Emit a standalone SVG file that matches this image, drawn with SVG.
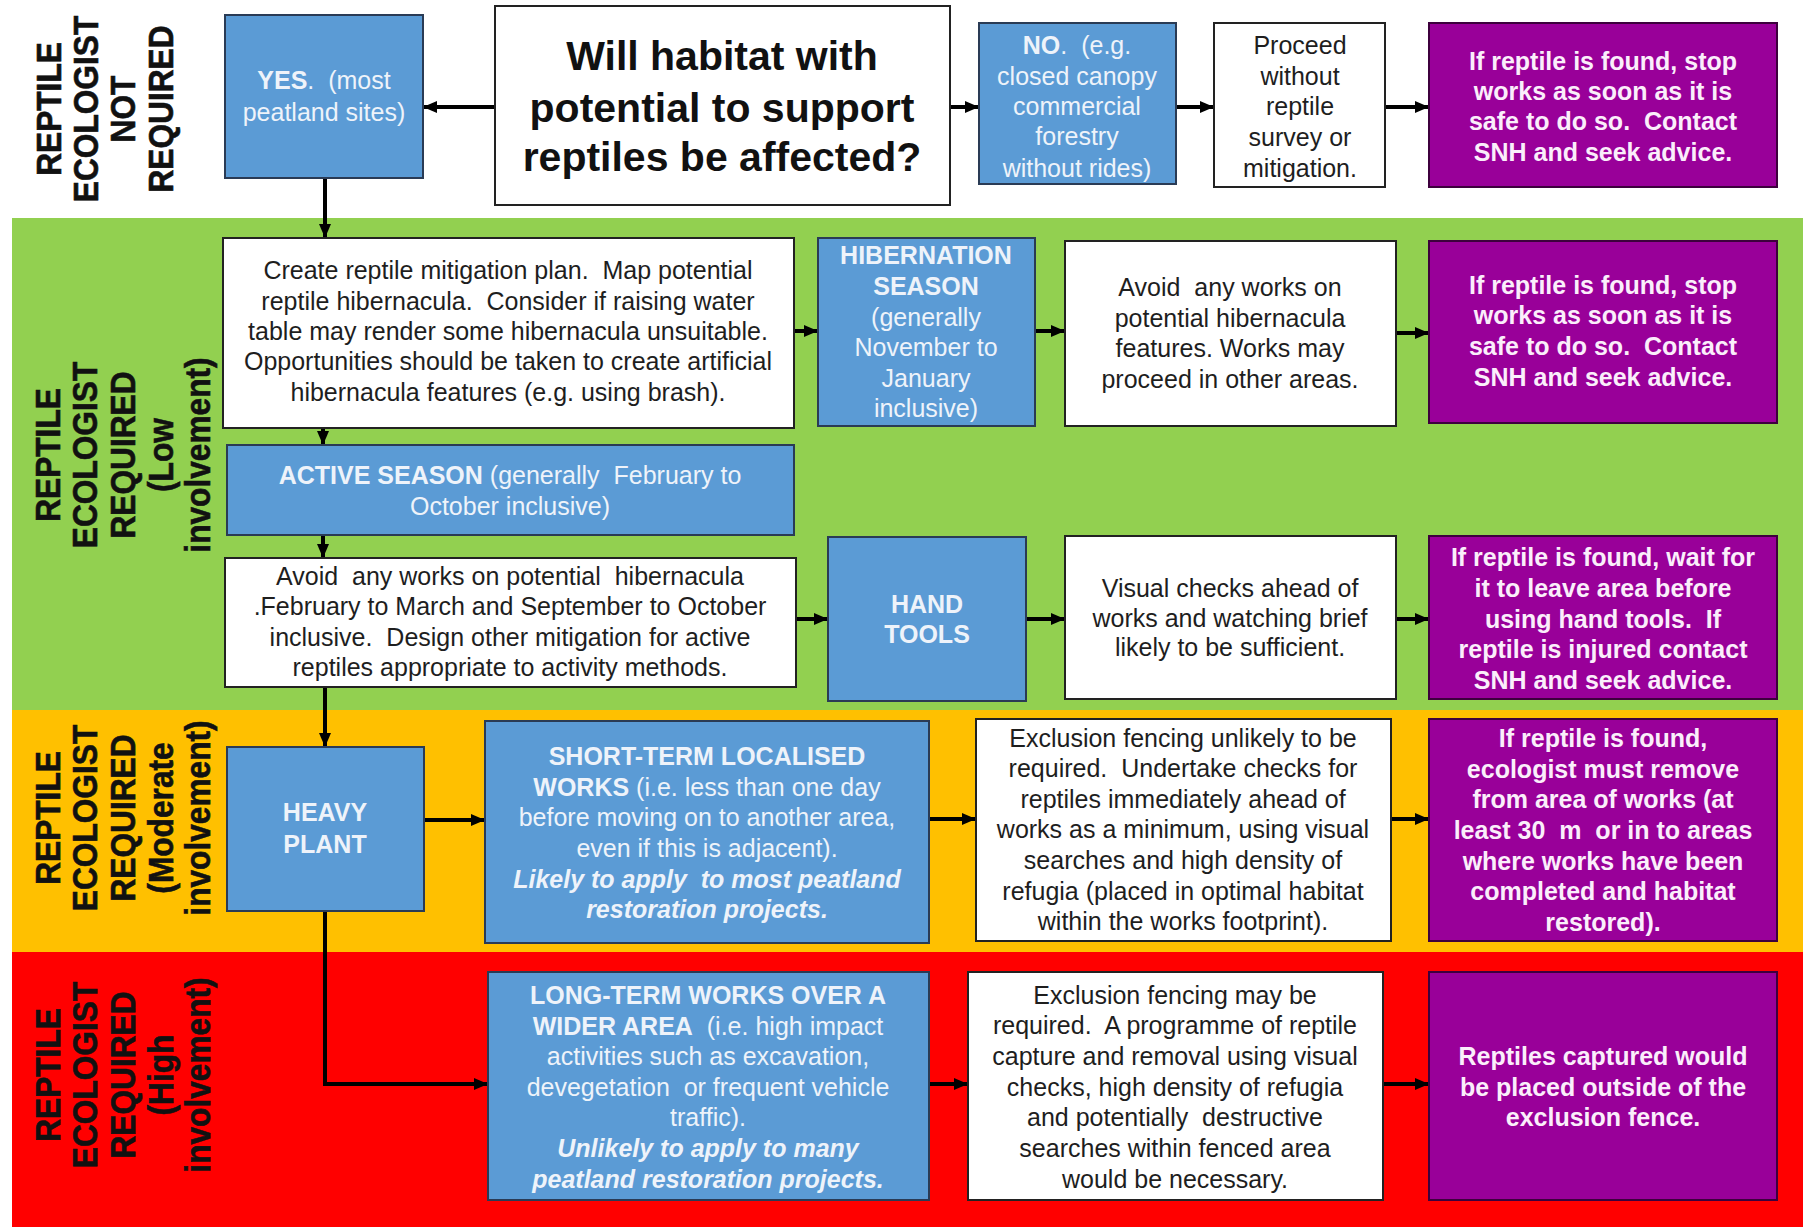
<svg xmlns="http://www.w3.org/2000/svg" width="1803" height="1227" viewBox="0 0 1803 1227">
<style>
.bl{fill:#5b9bd5;stroke:#2a3b55;stroke-width:2}
.wh{fill:#ffffff;stroke:#222;stroke-width:2}
.pu{fill:#990099;stroke:#3d003d;stroke-width:2}
text{font-family:"Liberation Sans",Arial,sans-serif;font-size:25px;text-anchor:middle}
.t{fill:#1e1e1e}
.tw{fill:#eef3fa}
.tp{fill:#fbeefb;font-weight:bold}
.b{font-weight:bold}
.bi{font-weight:bold;font-style:italic}
.lab{font-weight:bold;font-size:36px;fill:#111;stroke:#111;stroke-width:0.6}
.title{font-weight:bold;font-size:41px;fill:#111}
.c{stroke:#000;stroke-width:4;fill:none;marker-end:url(#ah)}
</style>
<defs>
<marker id="ah" markerUnits="userSpaceOnUse" markerWidth="14" markerHeight="14" viewBox="0 0 14 14" refX="13" refY="7" orient="auto">
<path d="M0,1 L14,7 L0,13 z" fill="#000"/>
</marker>
</defs>

<g id="bands">
<rect x="0" y="0" width="1803" height="218" fill="#ffffff"/>
<rect x="12" y="218" width="1791" height="492" fill="#92d050"/>
<rect x="12" y="710" width="1791" height="242" fill="#ffc000"/>
<rect x="12" y="952" width="1791" height="275" fill="#ff0000"/>
</g>

<g id="label-not-required" transform="translate(0,109) rotate(-90) scale(0.88,1)">
<text class="lab" x="0" y="61">REPTILE</text>
<text class="lab" x="0" y="98">ECOLOGIST</text>
<text class="lab" x="0" y="135">NOT</text>
<text class="lab" x="0" y="173">REQUIRED</text>
</g>
<g id="label-low" transform="translate(0,455) rotate(-90) scale(0.88,1)">
<text class="lab" x="0" y="60">REPTILE</text>
<text class="lab" x="0" y="97">ECOLOGIST</text>
<text class="lab" x="0" y="135">REQUIRED</text>
<text class="lab" x="0" y="173">(Low</text>
<text class="lab" x="0" y="210">involvement)</text>
</g>
<g id="label-moderate" transform="translate(0,818) rotate(-90) scale(0.88,1)">
<text class="lab" x="0" y="60">REPTILE</text>
<text class="lab" x="0" y="97">ECOLOGIST</text>
<text class="lab" x="0" y="135">REQUIRED</text>
<text class="lab" x="0" y="173">(Moderate</text>
<text class="lab" x="0" y="210">involvement)</text>
</g>
<g id="label-high" transform="translate(0,1075) rotate(-90) scale(0.88,1)">
<text class="lab" x="0" y="60">REPTILE</text>
<text class="lab" x="0" y="97">ECOLOGIST</text>
<text class="lab" x="0" y="135">REQUIRED</text>
<text class="lab" x="0" y="173">(High</text>
<text class="lab" x="0" y="210">involvement)</text>
</g>

<g id="connectors">
<line class="c" x1="495" y1="107" x2="424" y2="107"/>
<line class="c" x1="950" y1="107" x2="978" y2="107"/>
<line class="c" x1="1176" y1="107" x2="1213" y2="107"/>
<line class="c" x1="1385" y1="107" x2="1428" y2="107"/>
<line class="c" x1="325" y1="178" x2="325" y2="237"/>
<line class="c" x1="794" y1="331" x2="817" y2="331"/>
<line class="c" x1="1035" y1="331" x2="1064" y2="331"/>
<line class="c" x1="1396" y1="333" x2="1428" y2="333"/>
<line class="c" x1="323" y1="428" x2="323" y2="444"/>
<line class="c" x1="323" y1="535" x2="323" y2="557"/>
<line class="c" x1="796" y1="619" x2="827" y2="619"/>
<line class="c" x1="1026" y1="619" x2="1064" y2="619"/>
<line class="c" x1="1396" y1="619" x2="1428" y2="619"/>
<line class="c" x1="325" y1="687" x2="325" y2="746"/>
<line class="c" x1="424" y1="820" x2="484" y2="820"/>
<line class="c" x1="929" y1="819" x2="975" y2="819"/>
<line class="c" x1="1391" y1="819" x2="1428" y2="819"/>
<polyline class="c" points="325,911 325,1084 487,1084"/>
<line class="c" x1="929" y1="1084" x2="967" y2="1084"/>
<line class="c" x1="1383" y1="1084" x2="1428" y2="1084"/>
</g>

<g id="yes">
<rect class="bl" x="225" y="15" width="198" height="163"/>
<text class="tw" x="324" y="89" xml:space="preserve"><tspan class="b">YES</tspan>.  (most</text>
<text class="tw" x="324" y="121">peatland sites)</text>
</g>

<g id="question">
<rect class="wh" x="495" y="6" width="455" height="199"/>
<text class="title" x="722" y="70">Will habitat with</text>
<text class="title" x="722" y="122">potential to support</text>
<text class="title" x="722" y="171">reptiles be affected?</text>
</g>

<g id="no">
<rect class="bl" x="979" y="23" width="197" height="161"/>
<text class="tw" x="1077" y="54" xml:space="preserve"><tspan class="b">NO</tspan>.  (e.g.</text>
<text class="tw" x="1077" y="85">closed canopy</text>
<text class="tw" x="1077" y="115">commercial</text>
<text class="tw" x="1077" y="145">forestry</text>
<text class="tw" x="1077" y="177">without rides)</text>
</g>

<g id="proceed">
<rect class="wh" x="1214" y="23" width="171" height="164"/>
<text class="t" x="1300" y="54">Proceed</text>
<text class="t" x="1300" y="85">without</text>
<text class="t" x="1300" y="115">reptile</text>
<text class="t" x="1300" y="146">survey or</text>
<text class="t" x="1300" y="177">mitigation.</text>
</g>

<g id="stop-1">
<rect class="pu" x="1429" y="23" width="348" height="164"/>
<text class="tp" x="1603" y="70">If reptile is found, stop</text>
<text class="tp" x="1603" y="100">works as soon as it is</text>
<text class="tp" x="1603" y="130" xml:space="preserve">safe to do so.  Contact</text>
<text class="tp" x="1603" y="161">SNH and seek advice.</text>
</g>

<g id="create-plan">
<rect class="wh" x="223" y="238" width="571" height="190"/>
<text class="t" x="508" y="279" xml:space="preserve">Create reptile mitigation plan.  Map potential</text>
<text class="t" x="508" y="310" xml:space="preserve">reptile hibernacula.  Consider if raising water</text>
<text class="t" x="508" y="340">table may render some hibernacula unsuitable.</text>
<text class="t" x="508" y="370">Opportunities should be taken to create artificial</text>
<text class="t" x="508" y="401">hibernacula features (e.g. using brash).</text>
</g>

<g id="hibernation">
<rect class="bl" x="818" y="238" width="217" height="188"/>
<text class="tw b" x="926" y="264">HIBERNATION</text>
<text class="tw b" x="926" y="295">SEASON</text>
<text class="tw" x="926" y="326">(generally</text>
<text class="tw" x="926" y="356">November to</text>
<text class="tw" x="926" y="387">January</text>
<text class="tw" x="926" y="417">inclusive)</text>
</g>

<g id="avoid-hibernacula">
<rect class="wh" x="1065" y="241" width="331" height="185"/>
<text class="t" x="1230" y="296" xml:space="preserve">Avoid  any works on</text>
<text class="t" x="1230" y="327">potential hibernacula</text>
<text class="t" x="1230" y="357">features. Works may</text>
<text class="t" x="1230" y="388">proceed in other areas.</text>
</g>

<g id="stop-2">
<rect class="pu" x="1429" y="241" width="348" height="182"/>
<text class="tp" x="1603" y="294">If reptile is found, stop</text>
<text class="tp" x="1603" y="324">works as soon as it is</text>
<text class="tp" x="1603" y="355" xml:space="preserve">safe to do so.  Contact</text>
<text class="tp" x="1603" y="386">SNH and seek advice.</text>
</g>

<g id="active-season">
<rect class="bl" x="227" y="445" width="567" height="90"/>
<text class="tw" x="510" y="484" xml:space="preserve"><tspan class="b">ACTIVE SEASON</tspan> (generally  February to</text>
<text class="tw" x="510" y="515">October inclusive)</text>
</g>

<g id="avoid-works">
<rect class="wh" x="225" y="558" width="571" height="129"/>
<text class="t" x="510" y="585" xml:space="preserve">Avoid  any works on potential  hibernacula</text>
<text class="t" x="510" y="615">.February to March and September to October</text>
<text class="t" x="510" y="646" xml:space="preserve">inclusive.  Design other mitigation for active</text>
<text class="t" x="510" y="676">reptiles appropriate to activity methods.</text>
</g>

<g id="hand-tools">
<rect class="bl" x="828" y="537" width="198" height="164"/>
<text class="tw b" x="927" y="613">HAND</text>
<text class="tw b" x="927" y="643">TOOLS</text>
</g>

<g id="visual-checks">
<rect class="wh" x="1065" y="536" width="331" height="163"/>
<text class="t" x="1230" y="597">Visual checks ahead of</text>
<text class="t" x="1230" y="627">works and watching brief</text>
<text class="t" x="1230" y="656">likely to be sufficient.</text>
</g>

<g id="stop-3">
<rect class="pu" x="1429" y="536" width="348" height="163"/>
<text class="tp" x="1603" y="566">If reptile is found, wait for</text>
<text class="tp" x="1603" y="597">it to leave area before</text>
<text class="tp" x="1603" y="628" xml:space="preserve">using hand tools.  If</text>
<text class="tp" x="1603" y="658">reptile is injured contact</text>
<text class="tp" x="1603" y="689">SNH and seek advice.</text>
</g>

<g id="heavy-plant">
<rect class="bl" x="227" y="747" width="197" height="164"/>
<text class="tw b" x="325" y="821">HEAVY</text>
<text class="tw b" x="325" y="853">PLANT</text>
</g>

<g id="short-term">
<rect class="bl" x="485" y="721" width="444" height="222"/>
<text class="tw b" x="707" y="765">SHORT-TERM LOCALISED</text>
<text class="tw" x="707" y="796"><tspan class="b">WORKS</tspan> (i.e. less than one day</text>
<text class="tw" x="707" y="826">before moving on to another area,</text>
<text class="tw" x="707" y="857">even if this is adjacent).</text>
<text class="tw bi" x="707" y="888" xml:space="preserve">Likely to apply  to most peatland</text>
<text class="tw bi" x="707" y="918">restoration projects.</text>
</g>

<g id="exclusion-unlikely">
<rect class="wh" x="976" y="719" width="415" height="222"/>
<text class="t" x="1183" y="747">Exclusion fencing unlikely to be</text>
<text class="t" x="1183" y="777" xml:space="preserve">required.  Undertake checks for</text>
<text class="t" x="1183" y="808">reptiles immediately ahead of</text>
<text class="t" x="1183" y="838">works as a minimum, using visual</text>
<text class="t" x="1183" y="869">searches and high density of</text>
<text class="t" x="1183" y="900">refugia (placed in optimal habitat</text>
<text class="t" x="1183" y="930">within the works footprint).</text>
</g>

<g id="stop-4">
<rect class="pu" x="1429" y="719" width="348" height="222"/>
<text class="tp" x="1603" y="747">If reptile is found,</text>
<text class="tp" x="1603" y="778">ecologist must remove</text>
<text class="tp" x="1603" y="808">from area of works (at</text>
<text class="tp" x="1603" y="839" xml:space="preserve">least 30  m  or in to areas</text>
<text class="tp" x="1603" y="870">where works have been</text>
<text class="tp" x="1603" y="900">completed and habitat</text>
<text class="tp" x="1603" y="931">restored).</text>
</g>

<g id="long-term">
<rect class="bl" x="488" y="972" width="441" height="228"/>
<text class="tw b" x="708" y="1004">LONG-TERM WORKS OVER A</text>
<text class="tw" x="708" y="1035" xml:space="preserve"><tspan class="b">WIDER AREA</tspan>  (i.e. high impact</text>
<text class="tw" x="708" y="1065">activities such as excavation,</text>
<text class="tw" x="708" y="1096" xml:space="preserve">devegetation  or frequent vehicle</text>
<text class="tw" x="708" y="1126">traffic).</text>
<text class="tw bi" x="708" y="1157">Unlikely to apply to many</text>
<text class="tw bi" x="708" y="1188">peatland restoration projects.</text>
</g>

<g id="exclusion-may">
<rect class="wh" x="968" y="972" width="415" height="228"/>
<text class="t" x="1175" y="1004">Exclusion fencing may be</text>
<text class="t" x="1175" y="1034" xml:space="preserve">required.  A programme of reptile</text>
<text class="t" x="1175" y="1065">capture and removal using visual</text>
<text class="t" x="1175" y="1096">checks, high density of refugia</text>
<text class="t" x="1175" y="1126" xml:space="preserve">and potentially  destructive</text>
<text class="t" x="1175" y="1157">searches within fenced area</text>
<text class="t" x="1175" y="1188">would be necessary.</text>
</g>

<g id="stop-5">
<rect class="pu" x="1429" y="972" width="348" height="228"/>
<text class="tp" x="1603" y="1065">Reptiles captured would</text>
<text class="tp" x="1603" y="1096">be placed outside of the</text>
<text class="tp" x="1603" y="1126">exclusion fence.</text>
</g>
</svg>
